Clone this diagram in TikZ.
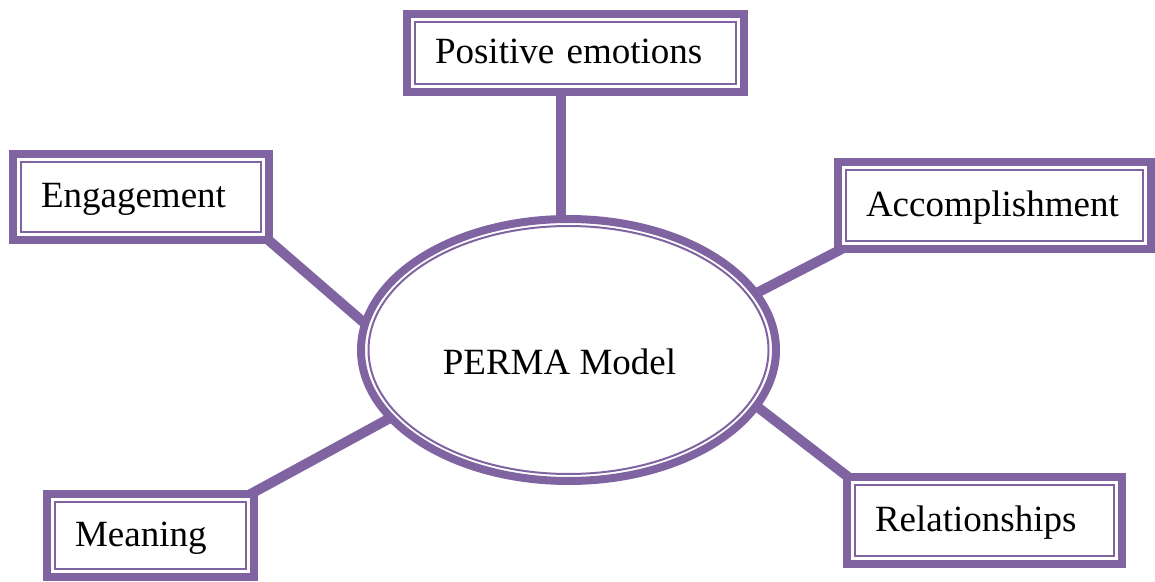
\documentclass[tikz,border=0pt]{standalone}
\usepackage{fontspec}
\setmainfont{Liberation Serif}
\usetikzlibrary{shapes.geometric, backgrounds, calc}
\definecolor{permaPurple}{HTML}{8064A2}
\tikzset{
    font=\fontsize{37}{44}\selectfont,
    % Colors
    permaLine/.style={draw=permaPurple},
    % Shapes
    pillar/.style={rectangle, permaLine, line width=8pt, fill=white,
                   inner xsep=28pt, inner ysep=0pt, align=left,
                   text height=28pt, text depth=6pt,
                   path picture={\draw[permaPurple, line width=2pt]
                       ([shift={(8pt,-8pt)}]path picture bounding box.north west) rectangle
                       ([shift={(-8pt,8pt)}]path picture bounding box.south east);}},
    hub/.style={ellipse, permaLine, line width=8pt, fill=white, inner sep=0pt,
                minimum width=415pt, minimum height=262pt,
                path picture={\draw[permaPurple, line width=2pt]
                    (path picture bounding box.center) ellipse [x radius=200pt, y radius=124pt];}},
    lbl/.style={inner sep=0pt},
    % Flow
    spoke/.style={permaPurple, line width=10pt, shorten <=-10pt, shorten >=-4pt}
}

\begin{document}
\begin{tikzpicture}[x=1pt, y=1pt]
\useasboundingbox (0,0) rectangle (1155,581);

\node[hub] (perma) at (568.5,231) {};
\node[lbl, anchor=base] (permaTxt) at (559.5,206) {PERMA Model};

\node[pillar, minimum width=337pt, minimum height=78pt, text width=281pt] (pos) at (575.5,528) {Positive emotions};
\node[pillar, minimum width=256pt, minimum height=86pt, text width=200pt] (eng) at (141,384) {Engagement};
\node[pillar, minimum width=313pt, minimum height=87pt, text width=257pt] (acc) at (994.5,375.5) {Accomplishment};
\node[pillar, minimum width=275pt, minimum height=87pt, text width=219pt] (rel) at (984.5,60.5) {Relationships};
\node[pillar, minimum width=207pt, minimum height=83pt, text width=151pt] (mean) at (150.5,45.5) {Meaning};

\begin{scope}[on background layer]
\draw[spoke] (perma.93 |- pos.south) -- (perma.93);
\draw[spoke] (eng.south east) -- (perma.172);
\draw[spoke] (acc.south west) -- (perma.17.7);
\draw[spoke] (rel.north west) -- (perma.-17.7);
\draw[spoke] (mean.north east) -- (perma.201.9);
\end{scope}

\end{tikzpicture}
\end{document}
